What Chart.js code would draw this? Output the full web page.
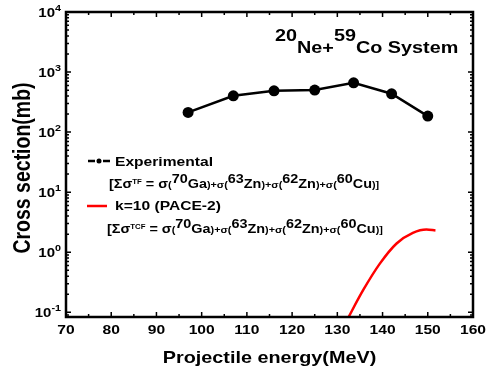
<!DOCTYPE html>
<html lang="en">
<head>
    <meta charset="UTF-8">
    <title>20Ne+59Co cross sections</title>
    <script src="https://cdn.jsdelivr.net/npm/chart.js"></script>
    <style>
        body { margin: 0; padding: 0; background: #fff; }
        .chart-container { position: relative; width: 487px; height: 374px; }
    </style>
</head>
<body>
    <div class="chart-container">
        <canvas id="xsChart"></canvas>
    </div>

    <script>
        // experimental points (MeV, mb)
        const expEnergy = [97, 107, 116, 125, 133.6, 142, 150];
        const expSigma = [213, 403, 488, 501, 663, 435, 185];

        // PACE-2 curve, k=10
        const paceEnergy = [132, 135.7, 139.4, 143.1, 146.7, 149.7, 151.7];
        const paceSigma = [0.071, 0.233, 0.646, 1.40, 2.10, 2.39, 2.30];

        const xTicks = [70, 80, 90, 100, 110, 120, 130, 140, 150, 160];
        const yDecades = [-1, 0, 1, 2, 3, 4];
        const legendLabels = ['Experimental', 'k=10 (PACE-2)'];

        const FONT = '"Liberation Sans", Arial, sans-serif';
        const SX = 1.2; // the original text is a bit wide

        function toPoints(xs, ys) {
            return xs.map((x, i) => ({ x: x, y: ys[i] }));
        }

        // draws a list of [text, size, raise] pieces one after another
        function drawParts(ctx, parts, x, y, align) {
            let total = 0;
            parts.forEach(p => {
                ctx.font = 'bold ' + p[1] + 'px ' + FONT;
                total += ctx.measureText(p[0]).width;
            });
            let cx = 0;
            if (align === 'right') cx = -total;
            if (align === 'center') cx = -total / 2;
            ctx.save();
            ctx.translate(x, y);
            ctx.scale(SX, 1);
            ctx.textAlign = 'left';
            ctx.textBaseline = 'alphabetic';
            parts.forEach(p => {
                ctx.font = 'bold ' + p[1] + 'px ' + FONT;
                ctx.fillText(p[0], cx, -(p[2] || 0));
                cx += ctx.measureText(p[0]).width;
            });
            ctx.restore();
        }

        function formula(tag) {
            return [
                ['[Σσ', 12], [tag, 6.5, 4], [' = σ', 12], ['(', 9], ['70', 12, 5], ['Ga', 12], [')+σ', 9],
                ['(', 9], ['63', 12, 5], ['Zn', 12], [')+σ', 9],
                ['(', 9], ['62', 12, 5], ['Zn', 12], [')+σ', 9],
                ['(', 9], ['60', 12, 5], ['Cu', 12], [')]', 9]
            ];
        }

        const framePlugin = {
            id: 'frame',
            afterDraw(chart) {
                const ctx = chart.ctx;
                const a = chart.chartArea;
                const xs = chart.scales.x;
                const ys = chart.scales.y;
                ctx.save();
                ctx.fillStyle = '#000';
                ctx.strokeStyle = '#000';

                // ticks, inward on all four sides
                ctx.lineWidth = 1.5;
                ctx.beginPath();
                for (let v = 70; v <= 160; v += 5) {
                    const px = xs.getPixelForValue(v);
                    const len = v % 10 === 0 ? 5 : 3;
                    ctx.moveTo(px, a.bottom); ctx.lineTo(px, a.bottom - len);
                    ctx.moveTo(px, a.top); ctx.lineTo(px, a.top + len);
                }
                for (let d = -2; d <= 4; d++) {
                    for (let m = 1; m <= 9; m++) {
                        const v = m * Math.pow(10, d);
                        if (v < ys.min || v > ys.max) continue;
                        const py = ys.getPixelForValue(v);
                        const len = m === 1 ? 5 : 3;
                        ctx.moveTo(a.left, py); ctx.lineTo(a.left + len, py);
                        ctx.moveTo(a.right, py); ctx.lineTo(a.right - len, py);
                    }
                }
                ctx.stroke();

                // frame
                ctx.lineWidth = 2.5;
                ctx.strokeRect(a.left, a.top, a.right - a.left, a.bottom - a.top);

                // tick labels
                xTicks.forEach(v => drawParts(ctx, [[String(v), 13]], xs.getPixelForValue(v), 334, 'center'));
                yDecades.forEach(d => {
                    const py = ys.getPixelForValue(Math.pow(10, d));
                    drawParts(ctx, [['10', 12.5], [String(d), 9, 6]], 61, py + 5, 'right');
                });

                // axis titles
                drawParts(ctx, [['Projectile energy(MeV)', 16.5]], (a.left + a.right) / 2, 363, 'center');
                ctx.save();
                ctx.translate(24, 168);
                ctx.scale(SX, 1);
                ctx.rotate(-Math.PI / 2);
                ctx.font = 'bold 19.5px ' + FONT;
                ctx.textAlign = 'center';
                ctx.textBaseline = 'middle';
                ctx.fillText('Cross section(mb)', 0, 0);
                ctx.restore();

                // system label
                drawParts(ctx, [['20', 16.5, 12], ['Ne+', 16.5], ['59', 16.5, 12], ['Co System', 16.5]], 275, 53, 'left');

                // legend
                ctx.lineWidth = 2.5;
                ctx.beginPath();
                ctx.moveTo(88, 161); ctx.lineTo(95, 161);
                ctx.moveTo(103, 161); ctx.lineTo(110, 161);
                ctx.stroke();
                ctx.beginPath();
                ctx.arc(99, 161, 2.5, 0, Math.PI * 2);
                ctx.fill();
                drawParts(ctx, [[legendLabels[0], 13]], 115, 166, 'left');
                drawParts(ctx, formula('TF'), 109, 188, 'left');

                ctx.strokeStyle = '#ff0000';
                ctx.beginPath();
                ctx.moveTo(87, 206); ctx.lineTo(107, 206);
                ctx.stroke();
                drawParts(ctx, [[legendLabels[1], 13]], 115, 210, 'left');
                drawParts(ctx, formula('TCF'), 107, 233, 'left');

                ctx.restore();
            }
        };

        const ctx = document.getElementById('xsChart').getContext('2d');

        const xsChart = new Chart(ctx, {
            type: 'line',
            data: {
                datasets: [
                    {
                        label: legendLabels[0],
                        data: toPoints(expEnergy, expSigma),
                        borderColor: '#000',
                        backgroundColor: '#000',
                        borderWidth: 2.5,
                        pointRadius: 5.5,
                        pointBorderWidth: 0,
                        tension: 0
                    },
                    {
                        label: legendLabels[1],
                        data: toPoints(paceEnergy, paceSigma),
                        borderColor: '#ff0000',
                        borderWidth: 2.5,
                        pointRadius: 0,
                        cubicInterpolationMode: 'monotone'
                    }
                ]
            },
            options: {
                responsive: true,
                maintainAspectRatio: false,
                animation: false,
                layout: { padding: { top: 12, right: 14, left: 0, bottom: 0 } },
                plugins: {
                    legend: { display: false },
                    tooltip: { enabled: false }
                },
                scales: {
                    x: {
                        type: 'linear',
                        min: 70,
                        max: 160,
                        grid: { display: false },
                        border: { display: false },
                        ticks: { display: false },
                        afterFit: s => { s.height = 57; }
                    },
                    y: {
                        type: 'logarithmic',
                        min: 0.0835,
                        max: 10000,
                        grid: { display: false },
                        border: { display: false },
                        ticks: { display: false },
                        afterFit: s => { s.width = 66; }
                    }
                }
            },
            plugins: [framePlugin]
        });
    </script>
</body>
</html>
